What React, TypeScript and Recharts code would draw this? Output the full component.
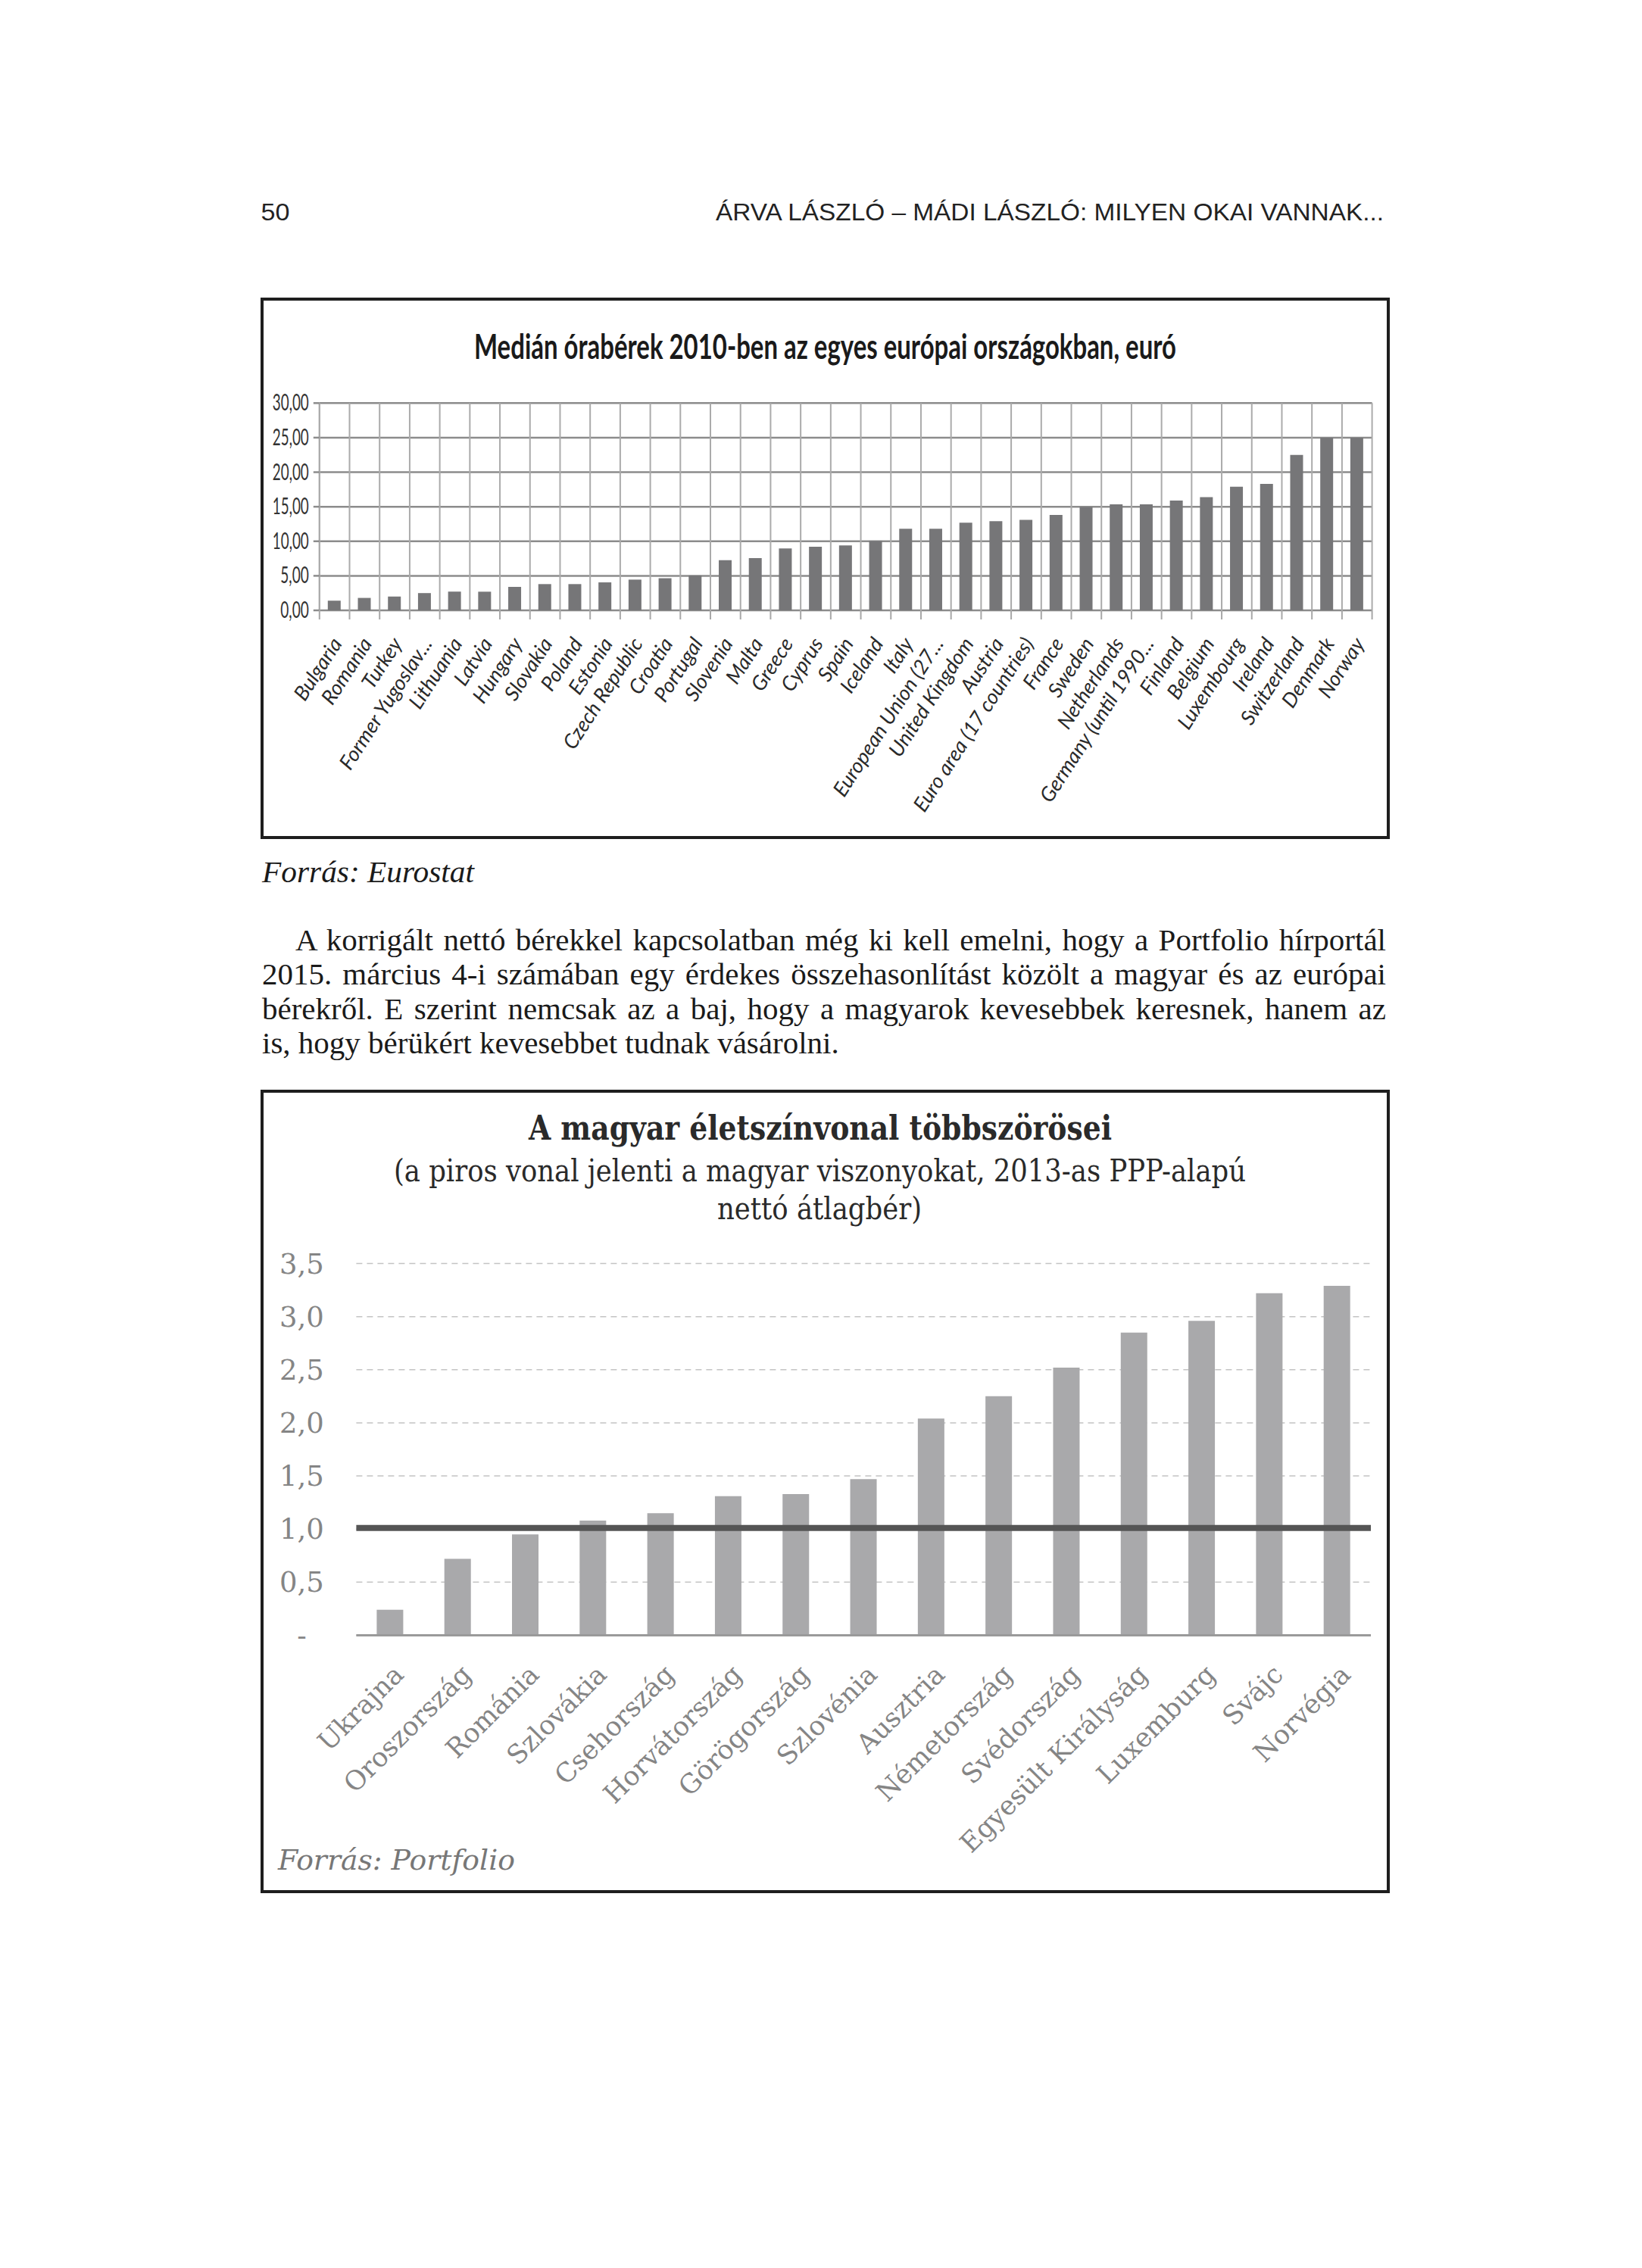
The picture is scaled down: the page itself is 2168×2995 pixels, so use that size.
import React from 'react';
import { BarChart, Bar, XAxis, YAxis, CartesianGrid, ReferenceLine } from 'recharts';

// --- chart 1: median hourly wages 2010, EUR ---
const countries1 = [
  'Bulgaria', 'Romania', 'Turkey', 'Former Yugoslav...', 'Lithuania', 'Latvia', 'Hungary',
  'Slovakia', 'Poland', 'Estonia', 'Czech Republic', 'Croatia', 'Portugal', 'Slovenia',
  'Malta', 'Greece', 'Cyprus', 'Spain', 'Iceland', 'Italy', 'European Union (27...',
  'United Kingdom', 'Austria', 'Euro area (17 countries)', 'France', 'Sweden', 'Netherlands',
  'Germany (until 1990...', 'Finland', 'Belgium', 'Luxembourg', 'Ireland', 'Switzerland',
  'Denmark', 'Norway',
];
const wages2010 = [
  1.4, 1.8, 2.0, 2.5, 2.7, 2.7, 3.4, 3.8, 3.8, 4.05, 4.45, 4.65, 5.05, 7.25, 7.55, 8.95,
  9.2, 9.4, 10.05, 11.8, 11.8, 12.7, 12.9, 13.1, 13.8, 14.95, 15.35, 15.35, 15.9, 16.4,
  17.9, 18.3, 22.5, 25.0, 25.0,
];
const yTicks1 = [0, 5, 10, 15, 20, 25, 30];

// --- chart 2: multiples of the Hungarian living standard ---
const countries2 = [
  'Ukrajna', 'Oroszország', 'Románia', 'Szlovákia', 'Csehország', 'Horvátország',
  'Görögország', 'Szlovénia', 'Ausztria', 'Németország', 'Svédország',
  'Egyesült Királyság', 'Luxemburg', 'Svájc', 'Norvégia',
];
const multiples = [0.24, 0.72, 0.95, 1.08, 1.15, 1.31, 1.33, 1.47, 2.04, 2.25, 2.52, 2.85, 2.96, 3.22, 3.29];
const yTicks2 = [0, 0.5, 1, 1.5, 2, 2.5, 3, 3.5];
const hungaryLevel = 1.01;

const paragraph = [
  'A korrigált nettó bérekkel kapcsolatban még ki kell emelni, hogy a Portfolio hírportál',
  '2015. március 4-i számában egy érdekes összehasonlítást közölt a magyar és az európai',
  'bérekről. E szerint nemcsak az a baj, hogy a magyarok kevesebbek keresnek, hanem az',
  'is, hogy bérükért kevesebbet tudnak vásárolni.',
];

const data1 = countries1.map((name, i) => ({ name, value: wages2010[i] }));
const data2 = countries2.map((name, i) => ({ name, value: multiples[i] }));

// layout (page pixels)
const C1 = { left: 346, top: 395, width: 1488, height: 712 };
const P1 = { left: 421.8, right: 1811.6, top: 532.3, bottom: 806 };
const BAND1 = (P1.right - P1.left) / countries1.length;

const C2 = { left: 346, top: 1441, width: 1488, height: 1057 };
const P2 = { left: 470.4, right: 1810, top: 1668.5, bottom: 2159.5 };

const fmt2 = (v: number) => v.toFixed(2).replace('.', ',');

const EuYTick = (props: any) => {
  const { x, y, payload } = props;
  const s = fmt2(payload.value);
  const digits = s.replace(',', '').length;
  return (
    <text x={x} y={y} dy={10} textAnchor="end" fontFamily="Lato" fontSize={30} fill="#333"
      textLength={digits * 10.5 + 6} lengthAdjust="spacingAndGlyphs">
      {s}
    </text>
  );
};

const EuXTick = (props: any) => {
  const { x, y, payload, index } = props;
  const lx = x - BAND1 / 2;
  return (
    <g>
      <line x1={lx} x2={lx} y1={y} y2={y + 12} stroke="#a8a8a8" strokeWidth={2} />
      {index === countries1.length - 1 && (
        <line x1={x + BAND1 / 2} x2={x + BAND1 / 2} y1={y} y2={y + 12} stroke="#a8a8a8" strokeWidth={2} />
      )}
      <text transform={`translate(${x + 11},${y + 44}) rotate(-57)`} textAnchor="end"
        fontFamily="Lato" fontStyle="italic" fontSize={27} fill="#2a2a2a">
        {payload.value}
      </text>
    </g>
  );
};

const HuYTick = (props: any) => {
  const { x, y, payload } = props;
  const s = payload.value === 0 ? '-' : payload.value.toFixed(1).replace('.', ',');
  return (
    <text x={x - 28} y={y} dy={13} textAnchor="middle" fontFamily="DejaVu Serif" fontSize={37} fill="#858585">
      {s}
    </text>
  );
};

const HuXTick = (props: any) => {
  const { x, y, payload } = props;
  return (
    <text transform={`translate(${x + 20},${y + 54}) rotate(-45)`} textAnchor="end"
      fontFamily="DejaVu Serif" fontSize={35} fill="#858585">
      {payload.value}
    </text>
  );
};

const abs = (r: { left: number; top: number; width: number; height: number }): React.CSSProperties => ({
  position: 'absolute', left: r.left, top: r.top, width: r.width, height: r.height,
});

export default function App() {
  return (
    <div style={{ position: 'absolute', left: 0, top: 0, width: 2168, height: 2995, background: '#fff', overflow: 'hidden' }}>
      {/* frames */}
      <div style={{ ...abs({ left: 344, top: 393, width: 1491, height: 715 }), border: '4px solid #1e1e1e', boxSizing: 'border-box' }} />
      <div style={{ ...abs({ left: 344, top: 1439, width: 1491, height: 1061 }), border: '4px solid #1e1e1e', boxSizing: 'border-box' }} />

      <div style={abs(C1)}>
        <BarChart width={C1.width} height={C1.height} data={data1}
          margin={{ top: P1.top - C1.top, right: C1.left + C1.width - P1.right, left: P1.left - C1.left - 60, bottom: 21 }}
          barSize={17}>
          <CartesianGrid stroke="#8c8c8c" strokeWidth={2.5} vertical={false} />
          <CartesianGrid horizontal={false} stroke="#ababab" strokeWidth={2}
            verticalCoordinatesGenerator={({ offset }: any) =>
              Array.from({ length: countries1.length + 1 }, (_, i) => offset.left + (i * offset.width) / countries1.length)} />
          <XAxis dataKey="name" interval={0} axisLine={false} tickLine={false} tickSize={0} tickMargin={0}
            height={280} tick={<EuXTick />} />
          <YAxis domain={[0, 30]} ticks={yTicks1} width={60} axisLine={{ stroke: '#ababab', strokeWidth: 2 }}
            tickLine={{ stroke: '#8c8c8c', strokeWidth: 2.5 }} tickSize={8} tickMargin={6} tick={<EuYTick />} />
          <Bar dataKey="value" fill="#767678" isAnimationActive={false} />
        </BarChart>
      </div>

      <div style={abs(C2)}>
        <BarChart width={C2.width} height={C2.height} data={data2}
          margin={{ top: P2.top - C2.top, right: C2.left + C2.width - P2.right, left: P2.left - C2.left - 100, bottom: 20 }}
          barSize={35}>
          <CartesianGrid vertical={false} stroke="#c4c4c4" strokeWidth={1.5} strokeDasharray="8 6" />
          <XAxis dataKey="name" interval={0} axisLine={{ stroke: '#9a9a9a', strokeWidth: 3 }} tickLine={false}
            tickSize={0} tickMargin={0} height={C2.top + C2.height - P2.bottom - 20} tick={<HuXTick />} />
          <YAxis domain={[0, 3.5]} ticks={yTicks2} width={100} axisLine={false} tickLine={false}
            tickSize={0} tickMargin={44} tick={<HuYTick />} />
          <Bar dataKey="value" fill="#a9a9ab" isAnimationActive={false} />
          <ReferenceLine y={hungaryLevel} stroke="#555" strokeWidth={8} />
        </BarChart>
      </div>

      {/* body paragraph */}
      {paragraph.map((line, i) => (
        <div key={i} style={{
          position: 'absolute', left: i === 0 ? 390 : 346, top: 1218.5 + i * 45.5,
          width: i === 0 ? 1440 : 1484, height: 45.5, lineHeight: '45.5px',
          fontFamily: '"Liberation Serif", serif', fontSize: 41, color: '#1a1a1a',
          textAlign: i < paragraph.length - 1 ? 'justify' : 'left',
          textAlignLast: i < paragraph.length - 1 ? 'justify' : 'left',
          whiteSpace: 'nowrap',
        }}>{line}</div>
      ))}

      <svg width={2168} height={2995} style={{ position: 'absolute', left: 0, top: 0, pointerEvents: 'none' }}>
        <text x={344.5} y={291} fontFamily="Liberation Sans" fontSize={31} fill="#222"
          textLength={38} lengthAdjust="spacingAndGlyphs">50</text>
        <text x={945} y={291} fontFamily="Liberation Sans" fontSize={31} fill="#222"
          textLength={882} lengthAdjust="spacingAndGlyphs">ÁRVA LÁSZLÓ – MÁDI LÁSZLÓ: MILYEN OKAI VANNAK...</text>

        <text x={626} y={474} fontFamily="Lato" fontWeight={700} fontSize={45} fill="#1a1a1a"
          textLength={927} lengthAdjust="spacingAndGlyphs">Medián órabérek 2010-ben az egyes európai országokban, euró</text>

        <text x={346} y={1165} fontFamily="Liberation Serif" fontStyle="italic" fontSize={41} fill="#1a1a1a"
          textLength={280} lengthAdjust="spacingAndGlyphs">Forrás: Eurostat</text>

        <text x={698} y={1505} fontFamily="DejaVu Serif" fontWeight={700} fontSize={44} fill="#2a2a2a"
          textLength={770} lengthAdjust="spacingAndGlyphs">A magyar életszínvonal többszörösei</text>
        <text x={520} y={1560} fontFamily="DejaVu Serif" fontSize={41} fill="#2a2a2a"
          textLength={1125} lengthAdjust="spacingAndGlyphs">(a piros vonal jelenti a magyar viszonyokat, 2013-as PPP-alapú</text>
        <text x={947} y={1610} fontFamily="DejaVu Serif" fontSize={41} fill="#2a2a2a"
          textLength={270} lengthAdjust="spacingAndGlyphs">nettó átlagbér)</text>

        <text x={367} y={2469} fontFamily="DejaVu Serif" fontStyle="italic" fontSize={38} fill="#777"
          textLength={313} lengthAdjust="spacingAndGlyphs">Forrás: Portfolio</text>
      </svg>
    </div>
  );
}
